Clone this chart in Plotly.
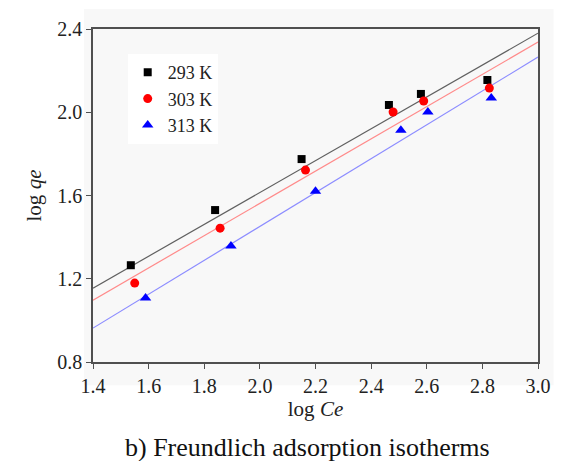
import plotly.graph_objects as go

# Data
series_names = ["293 K", "303 K", "313 K"]
x_293 = [1.536, 1.839, 2.150, 2.464, 2.579, 2.818]
y_293 = [1.265, 1.530, 1.775, 2.035, 2.088, 2.155]
x_303 = [1.550, 1.857, 2.164, 2.479, 2.589, 2.825]
y_303 = [1.179, 1.443, 1.722, 2.001, 2.054, 2.116]
x_313 = [1.589, 1.896, 2.200, 2.507, 2.604, 2.832]
y_313 = [1.107, 1.357, 1.621, 1.914, 2.001, 2.068]

fit_x = [1.4, 3.0]
fit_293 = [1.155, 2.380]
fit_303 = [1.097, 2.337]
fit_313 = [0.963, 2.265]

x_ticks = [1.4, 1.6, 1.8, 2.0, 2.2, 2.4, 2.6, 2.8, 3.0]
y_ticks = [0.8, 1.2, 1.6, 2.0, 2.4]

FONT = "'Liberation Serif', 'Times New Roman', serif"

fig = go.Figure()

# fit lines
fig.add_trace(go.Scatter(x=fit_x, y=fit_293, mode="lines", line=dict(color="#606060", width=1.2), showlegend=False, hoverinfo="skip"))
fig.add_trace(go.Scatter(x=fit_x, y=fit_303, mode="lines", line=dict(color="#ff8a8a", width=1.2), showlegend=False, hoverinfo="skip"))
fig.add_trace(go.Scatter(x=fit_x, y=fit_313, mode="lines", line=dict(color="#8c8cff", width=1.2), showlegend=False, hoverinfo="skip"))

# data points
fig.add_trace(go.Scatter(x=x_293, y=y_293, mode="markers", name=series_names[0],
                         marker=dict(symbol="square", size=8, color="black")))
fig.add_trace(go.Scatter(x=x_303, y=y_303, mode="markers", name=series_names[1],
                         marker=dict(symbol="circle", size=9, color="#ff0000")))
fig.add_trace(go.Scatter(x=x_313, y=y_313, mode="markers", name=series_names[2],
                         marker=dict(symbol="triangle-up", size=10, color="#0000ff")))

axis_common = dict(
    showgrid=False, zeroline=False, showline=True, linecolor="#505050", linewidth=1.5,
    mirror=True, ticks="outside", ticklen=5, tickwidth=1.2, tickcolor="#505050",
    tickfont=dict(family=FONT, size=20, color="#222"),
)

fig.update_layout(
    width=563, height=461,
    margin=dict(l=93, r=22, t=29, b=99),
    paper_bgcolor="white",
    plot_bgcolor="#f8f8f8",
    font=dict(family=FONT, color="#222"),
    xaxis=dict(range=[1.4, 3.0], tickvals=x_ticks, ticktext=[f"{v:.1f}" for v in x_ticks],
               title=dict(text="log <i>Ce</i>", font=dict(family=FONT, size=21, color="#222"), standoff=4),
               **axis_common),
    yaxis=dict(range=[0.8, 2.4], tickvals=y_ticks, ticktext=[f"{v:.1f}" for v in y_ticks],
               title=dict(text="log <i>qe</i>", font=dict(family=FONT, size=21, color="#222"), standoff=10),
               **axis_common),
    legend=dict(x=0.078, y=0.925, xanchor="left", yanchor="top", bgcolor="white",
                font=dict(family=FONT, size=18, color="#222"), tracegroupgap=0, itemwidth=30),
    shapes=[dict(type="rect", xref="paper", yref="paper", x0=-0.02, x1=1.035, y0=-0.07, y1=1.06,
                 fillcolor="#f8f8f8", line=dict(width=0), layer="below")],
    annotations=[dict(text="b) Freundlich adsorption isotherms", xref="paper", yref="paper",
                      x=0.482, y=-0.258, xanchor="center", yanchor="middle", showarrow=False,
                      font=dict(family=FONT, size=26, color="#111"))],
)

fig.write_html("out.html")
